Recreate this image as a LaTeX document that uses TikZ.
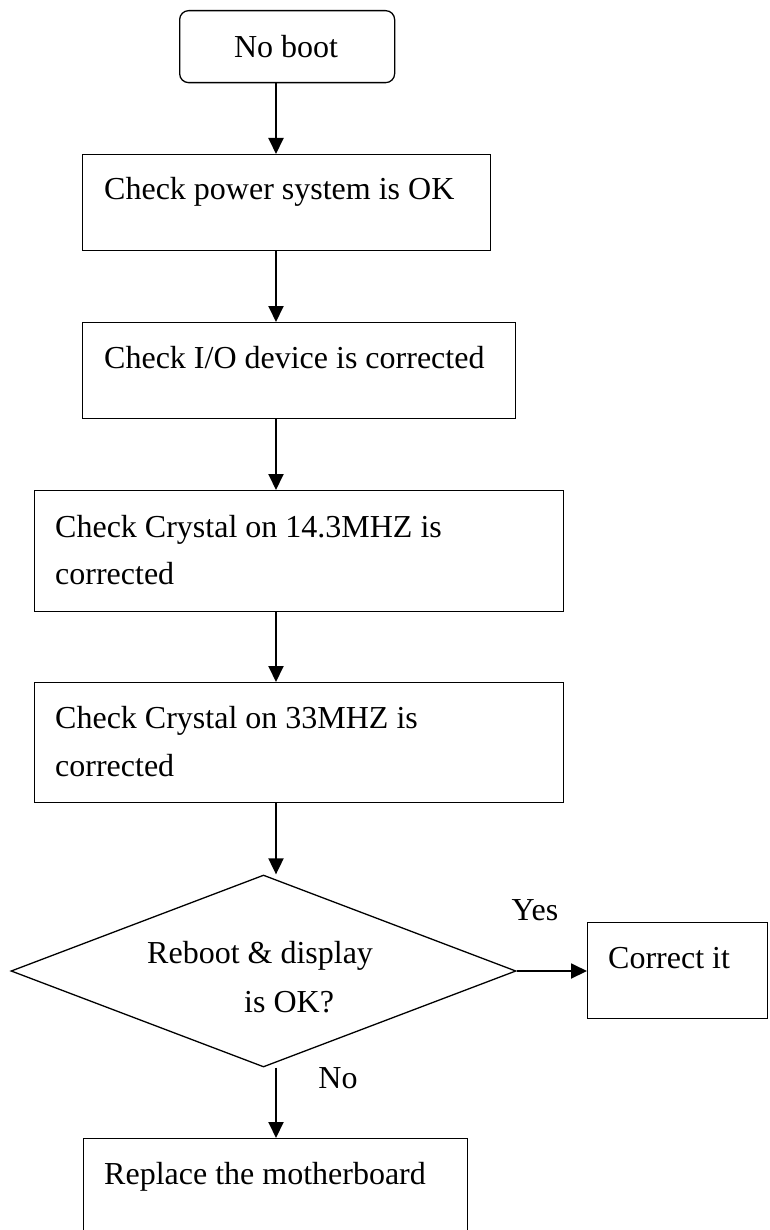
\documentclass[tikz,border=0pt]{standalone}
\usepackage{fontspec}
\setmainfont{Liberation Serif}
\usetikzlibrary{arrows.meta,shapes.geometric}
\begin{document}
\begin{tikzpicture}[x=1pt,y=-1pt,
  box/.style={draw,line width=1.3pt,rectangle,inner sep=0pt,anchor=north west},
  txt/.style={anchor=base west,inner sep=0pt,font=\fontsize{32}{47}\selectfont},
  arr/.style={line width=1.9pt,-{Triangle[length=16pt,width=15pt]}}]
\useasboundingbox (0,0) rectangle (769,1230);
\fill[white] (0,0) rectangle (769,1230);
\coordinate (ax) at (276,0);
% nodes
\node[box,rounded corners=9pt,minimum width=215pt,minimum height=72pt] (nb) at (179,10) {};
\node[txt,anchor=base] (tnb) at (286,58) {No boot};
\node[box,minimum width=408pt,minimum height=96pt] (b2) at (82,154) {};
\node[txt] (t2) at (104,200) {Check power system is OK};
\node[box,minimum width=433pt,minimum height=96pt] (b3) at (82,322) {};
\node[txt] (t3) at (104,368) {Check I/O device is corrected};
\node[box,minimum width=529pt,minimum height=121pt] (b4) at (34,490) {};
\node[txt] (t4a) at (55,537) {Check Crystal on 14.3MHZ is};
\node[txt] (t4b) at (55,584) {corrected};
\node[box,minimum width=529pt,minimum height=120pt] (b5) at (34,682) {};
\node[txt] (t5a) at (55,728) {Check Crystal on 33MHZ is};
\node[txt] (t5b) at (55,776) {corrected};
\node[draw,line width=1.3pt,shape=diamond,inner sep=0pt,minimum width=505pt,minimum height=192pt] (dia) at (263.5,971) {};
\node[txt] (td1) at (147,963) {Reboot \& display};
\node[txt] (td2) at (244,1012) {is OK?};
\node[box,minimum width=180pt,minimum height=96pt] (cor) at (587,922) {};
\node[txt] (tcor) at (608,968) {Correct it};
\node[box,minimum width=384pt,minimum height=130pt] (rep) at (83,1138) {};
\node[txt] (trep) at (104,1184) {Replace the motherboard};
\node[txt,anchor=base] (yes) at (535,920) {Yes};
\node[txt,anchor=base] (no) at (338,1088) {No};
% connectors
\draw[arr] (nb.south -| ax) -- (b2.north -| ax);
\draw[arr] (b2.south -| ax) -- (b3.north -| ax);
\draw[arr] (b3.south -| ax) -- (b4.north -| ax);
\draw[arr] (b4.south -| ax) -- (b5.north -| ax);
\draw[arr] (b5.south -| ax) -- (dia.north -| ax);
\draw[arr] (dia.east) -- (cor.west |- dia.east);
\draw[arr] (dia.south -| ax) -- (rep.north -| ax);
\end{tikzpicture}
\end{document}
